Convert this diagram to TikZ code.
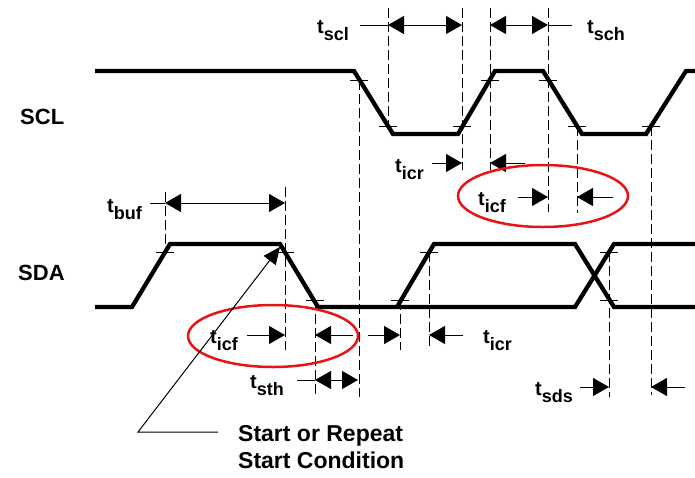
\documentclass[tikz,border=0pt]{standalone}
\usepackage{fontspec}
\setmainfont{Liberation Sans}
\usetikzlibrary{arrows.meta}
\newcommand{\tlab}[1]{{\fontsize{20}{22}\selectfont\bfseries t\raisebox{-7pt}{\fontsize{18}{20}\selectfont #1}}}
\begin{document}
\begin{tikzpicture}[x=1pt,y=-1pt,
  wave/.style={line width=4.3pt, line join=miter},
  guide/.style={line width=0.9pt, dash pattern=on 10pt off 4pt},
  thr/.style={line width=0.9pt},
  dimarrow/.style={line width=1pt, {Triangle[length=16pt,width=18pt]}-{Triangle[length=16pt,width=18pt]}},
  tipR/.style={line width=1pt, -{Triangle[length=16pt,width=18pt]}},
  lead/.style={line width=1pt},
  tl/.style={inner sep=0pt, anchor=base west},
  sig/.style={inner sep=0pt, anchor=base west, font=\fontsize{22}{26}\selectfont\bfseries},
  ring/.style={draw={rgb,255:red,230;green,20;blue,20}, line width=2.5pt}]
\useasboundingbox (0,0) rectangle (695,477);

% signal names
\node[sig] (scl) at (20,124) {SCL};
\node[sig] (sda) at (18,280) {SDA};

% SCL waveform
\draw[wave] (95,71) -- (354,71) -- (393,134) -- (458,134) -- (495,71) -- (543,71) -- (582,134) -- (646,134) -- (686,71) -- (695,71);
% SDA waveforms
\draw[wave] (95,307) -- (132,307) -- (170,244) -- (280,244) -- (318,307) -- (575,307) -- (614,244) -- (695,244);
\draw[wave] (397,307) -- (434,244) -- (575,244) -- (614,307) -- (695,307);

% threshold ticks
\foreach \x/\y in {359/80, 388/126, 462/126, 490/80, 548/80, 577/126, 651/126,
                   165/252, 285/252, 315/300, 400/300, 429/252, 609/252, 609/300}
  \draw[thr] (\x-9,\y) -- (\x+9,\y);

% dashed guides
\foreach \x/\a/\b in {359/80/397, 388/8/126, 462/8/170, 490/8/170, 548/8/212,
                      577/126/213, 651/126/395, 165/192/252, 285/187/350,
                      315/300/397, 400/300/350, 429/252/350, 609/252/397}
  \draw[guide] (\x,\a) -- (\x,\b);

% t_scl
\node[tl] (tscl) at (317,33) {\tlab{scl}};
\coordinate (sclA) at (388,25); \coordinate (sclB) at (462,25);
\coordinate (sclL) at (360,25);
\draw[lead] (sclL) -- (sclA);
\draw[dimarrow] (sclA) -- (sclB);

% t_sch
\node[tl] (tsch) at (587,33) {\tlab{sch}};
\coordinate (schA) at (490,25); \coordinate (schB) at (548,25);
\coordinate (schL) at (572,25);
\draw[dimarrow] (schA) -- (schB);
\draw[lead] (schB) -- (schL);

% t_icr (SCL)
\node[tl] (ticrA) at (395,172) {\tlab{icr}};
\coordinate (icrAL) at (432,163); \coordinate (icrAt) at (462,163);
\coordinate (icrAR) at (525,163); \coordinate (icrAu) at (490,163);
\draw[tipR] (icrAL) -- (icrAt);
\draw[tipR] (icrAR) -- (icrAu);

% t_icf (SCL)
\node[tl] (ticfA) at (478,205) {\tlab{icf}};
\coordinate (icfAL) at (518,197); \coordinate (icfAt) at (548,197);
\coordinate (icfAR) at (613,197); \coordinate (icfAu) at (577,197);
\draw[tipR] (icfAL) -- (icfAt);
\draw[tipR] (icfAR) -- (icfAu);
\draw[ring] (543,196) ellipse [x radius=85pt, y radius=31pt];

% t_buf
\node[tl] (tbuf) at (107,212) {\tlab{buf}};
\coordinate (bufL) at (150,203); \coordinate (bufA) at (165,203); \coordinate (bufB) at (285,203);
\draw[lead] (bufL) -- (bufA);
\draw[dimarrow] (bufA) -- (bufB);

% t_icf (SDA)
\node[tl] (ticfB) at (210,343) {\tlab{icf}};
\coordinate (icfBL) at (247,335); \coordinate (icfBt) at (285,335);
\coordinate (icfBR) at (353,335); \coordinate (icfBu) at (315,335);
\draw[tipR] (icfBL) -- (icfBt);
\draw[tipR] (icfBR) -- (icfBu);
\draw[ring] (273,336) ellipse [x radius=85pt, y radius=31pt];

% t_icr (SDA)
\node[tl] (ticrB) at (483,343) {\tlab{icr}};
\coordinate (icrBL) at (368,335); \coordinate (icrBt) at (400,335);
\coordinate (icrBR) at (463,335); \coordinate (icrBu) at (429,335);
\draw[tipR] (icrBL) -- (icrBt);
\draw[tipR] (icrBR) -- (icrBu);

% t_sth
\node[tl] (tsth) at (250,388) {\tlab{sth}};
\coordinate (sthL) at (297,380); \coordinate (sthA) at (315,380); \coordinate (sthB) at (358,380);
\draw[lead] (sthL) -- (sthA);
\draw[dimarrow] (sthA) -- (sthB);

% t_sds
\node[tl] (tsds) at (535,395) {\tlab{sds}};
\coordinate (sdsL) at (580,387); \coordinate (sdsA) at (609,387);
\coordinate (sdsR) at (685,387); \coordinate (sdsB) at (651,387);
\draw[tipR] (sdsL) -- (sdsA);
\draw[tipR] (sdsR) -- (sdsB);

% start condition note
\node[sig, font=\fontsize{23}{27}\selectfont\bfseries] (startA) at (238,441) {Start or Repeat};
\node[sig, font=\fontsize{23}{27}\selectfont\bfseries] (startB) at (238,468) {Start Condition};
\coordinate (stR) at (218,432); \coordinate (stK) at (138,432); \coordinate (stTip) at (280,247);
\draw[line width=1pt, -{Triangle[length=17pt,width=15pt]}] (stR) -- (stK) -- (stTip);
\end{tikzpicture}
\end{document}
